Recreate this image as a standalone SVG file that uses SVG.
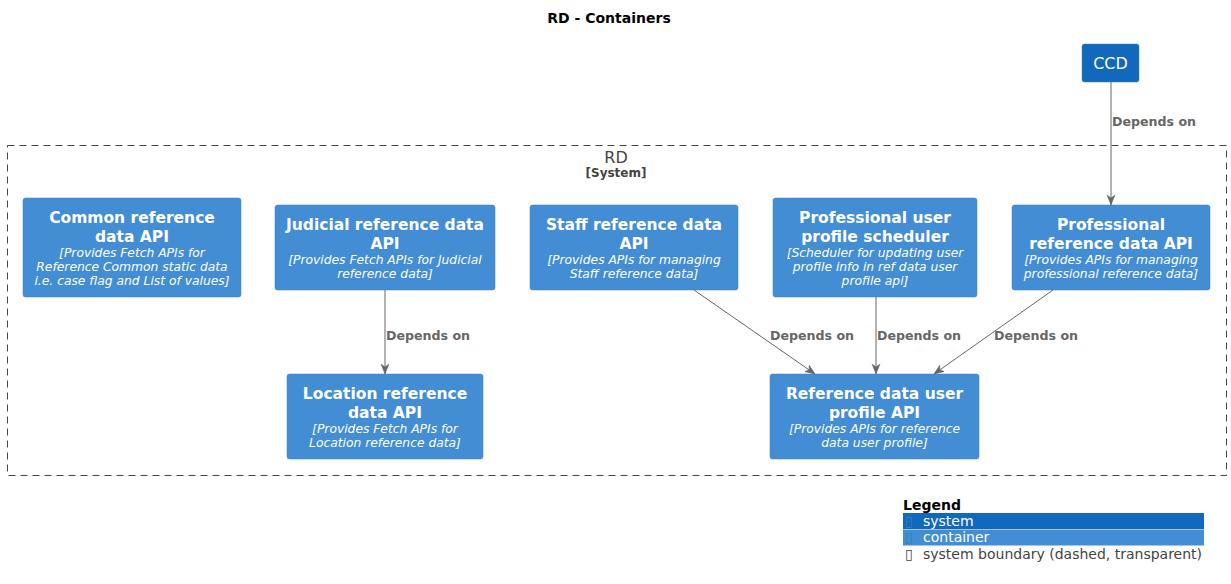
<svg xmlns="http://www.w3.org/2000/svg" width="1231" height="584" viewBox="0 0 1231 584">
<style>
.bg{fill:#FFFFFF}
.cont{fill:#438DD5;stroke:#3C7FC0;stroke-width:0.5}
.sys{fill:#1168BD;stroke:#3C7FC0;stroke-width:0.5}
.name{font-family:"DejaVu Sans",sans-serif;font-size:15.5px;font-weight:bold;fill:#FFFFFF;text-anchor:middle}
.desc{font-family:"DejaVu Sans",sans-serif;font-size:12.3px;font-style:italic;fill:#FFFFFF;text-anchor:middle}
.edge{stroke:#666666;stroke-width:1;fill:none}
.elabel{font-family:"DejaVu Sans",sans-serif;font-size:12.6px;font-weight:bold;fill:#666666}
.title{font-family:"DejaVu Sans",sans-serif;font-size:14px;font-weight:bold;fill:#000000;text-anchor:middle}
.leg{font-family:"DejaVu Sans",sans-serif;font-size:14px}
</style>
<defs>
<marker id="arr" viewBox="0 0 10 10" refX="10" refY="5" markerWidth="10" markerHeight="10" markerUnits="userSpaceOnUse" orient="auto">
<path d="M0,1 L10,5 L0,9 L3,5 Z" fill="#666666" stroke="#666666" stroke-width="0.5"/>
</marker>
</defs>
<rect class="bg" x="0" y="0" width="1231" height="584"/>
<text class="title" x="609" y="23">RD - Containers</text>

<g id="boundary-RD">
<rect x="7.5" y="145.5" width="1219" height="330" fill="none" stroke="#444444" stroke-width="1" stroke-dasharray="7,5"/>
<text x="616" y="163" font-family="DejaVu Sans, sans-serif" font-size="16" fill="#444444" text-anchor="middle">RD</text>
<text x="616" y="177" font-family="DejaVu Sans, sans-serif" font-size="12" font-weight="bold" fill="#444444" text-anchor="middle">[System]</text>
</g>

<g id="CCD">
<rect class="sys" x="1082" y="44" width="57" height="38" rx="2.5"/>
<text class="name" x="1110.5" y="69" style="font-weight:normal;font-size:16px">CCD</text>
</g>

<g id="common">
<rect class="cont" x="23" y="198" width="218" height="99" rx="2.5"/>
<text class="name" x="132" y="223">Common reference</text>
<text class="name" x="132" y="242">data API</text>
<text class="desc" x="132" y="257">[Provides Fetch APIs for</text>
<text class="desc" x="132" y="271">Reference Common static data</text>
<text class="desc" x="132" y="285">i.e. case flag and List of values]</text>
</g>

<g id="judicial">
<rect class="cont" x="275" y="205" width="220" height="85" rx="2.5"/>
<text class="name" x="385" y="230">Judicial reference data</text>
<text class="name" x="385" y="249">API</text>
<text class="desc" x="385" y="264">[Provides Fetch APIs for Judicial</text>
<text class="desc" x="385" y="278">reference data]</text>
</g>

<g id="staff">
<rect class="cont" x="530" y="205" width="208" height="85" rx="2.5"/>
<text class="name" x="634" y="230">Staff reference data</text>
<text class="name" x="634" y="249">API</text>
<text class="desc" x="634" y="264">[Provides APIs for managing</text>
<text class="desc" x="634" y="278">Staff reference data]</text>
</g>

<g id="scheduler">
<rect class="cont" x="773" y="198" width="204" height="99" rx="2.5"/>
<text class="name" x="875" y="223">Professional user</text>
<text class="name" x="875" y="242">profile scheduler</text>
<text class="desc" x="875" y="257">[Scheduler for updating user</text>
<text class="desc" x="875" y="271">profile info in ref data user</text>
<text class="desc" x="875" y="285">profile api]</text>
</g>

<g id="professional">
<rect class="cont" x="1012" y="205" width="198" height="85" rx="2.5"/>
<text class="name" x="1111" y="230">Professional</text>
<text class="name" x="1111" y="249">reference data API</text>
<text class="desc" x="1111" y="264">[Provides APIs for managing</text>
<text class="desc" x="1111" y="278">professional reference data]</text>
</g>

<g id="location">
<rect class="cont" x="287" y="374" width="196" height="85" rx="2.5"/>
<text class="name" x="385" y="399">Location reference</text>
<text class="name" x="385" y="418">data API</text>
<text class="desc" x="385" y="433">[Provides Fetch APIs for</text>
<text class="desc" x="385" y="447">Location reference data]</text>
</g>

<g id="userprofile">
<rect class="cont" x="770" y="374" width="209" height="85" rx="2.5"/>
<text class="name" x="874.5" y="399">Reference data user</text>
<text class="name" x="874.5" y="418">profile API</text>
<text class="desc" x="874.5" y="433">[Provides APIs for reference</text>
<text class="desc" x="874.5" y="447">data user profile]</text>
</g>

<g id="connectors">
<line class="edge" x1="1111" y1="82" x2="1111" y2="205" marker-end="url(#arr)"/>
<text class="elabel" x="1112" y="126">Depends on</text>
<line class="edge" x1="385" y1="290" x2="385" y2="374" marker-end="url(#arr)"/>
<text class="elabel" x="386" y="340">Depends on</text>
<line class="edge" x1="694" y1="290" x2="815" y2="374" marker-end="url(#arr)"/>
<text class="elabel" x="770" y="340">Depends on</text>
<line class="edge" x1="876" y1="297" x2="876" y2="374" marker-end="url(#arr)"/>
<text class="elabel" x="877" y="340">Depends on</text>
<line class="edge" x1="1053" y1="290" x2="934" y2="374" marker-end="url(#arr)"/>
<text class="elabel" x="994" y="340">Depends on</text>
</g>

<g id="legend">
<text x="903" y="510" font-family="DejaVu Sans, sans-serif" font-size="14" font-weight="bold" fill="#000000">Legend</text>
<rect x="903" y="513" width="301" height="16" fill="#1168BD"/>
<rect x="903" y="529.5" width="301" height="16" fill="#438DD5"/>
<text class="leg" x="905" y="526" fill="#3C7FC0">▯</text>
<text class="leg" x="923" y="526" fill="#FFFFFF">system</text>
<text class="leg" x="905" y="542" fill="#3C7FC0">▯</text>
<text class="leg" x="923" y="542" fill="#FFFFFF">container</text>
<text class="leg" x="905" y="559" fill="#444444">▯</text>
<text class="leg" x="923" y="559" fill="#444444">system boundary (dashed, transparent)</text>
</g>
</svg>
